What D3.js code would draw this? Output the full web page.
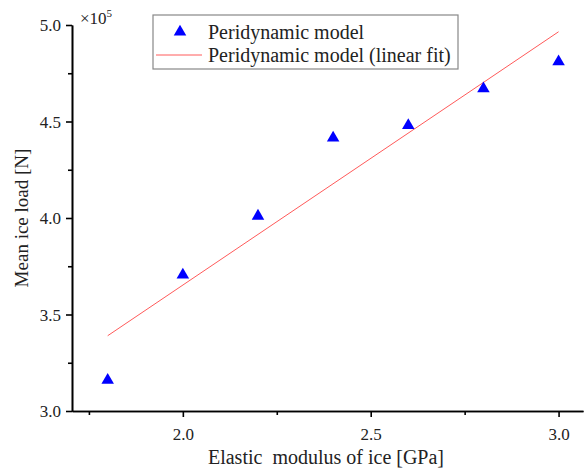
<!DOCTYPE html>
<html>
<head>
<meta charset="utf-8">
<script src="https://cdn.jsdelivr.net/npm/d3@7"></script>
<style>
  body { margin: 0; background: #fff; }
  text { font-family: "Liberation Serif", "Times New Roman", serif; }
</style>
</head>
<body>
<script>
// values (load in units of 1e5 N)
const modulus = [1.8, 2.0, 2.2, 2.4, 2.6, 2.8, 3.0];
const meanLoad = [3.16, 3.705, 4.01, 4.415, 4.48, 4.67, 4.81];
const fitX = [1.8, 3.0];
const fitY = [3.39, 4.965];
const xTicks = [2.0, 2.5, 3.0];
const yTicks = [3.0, 3.5, 4.0, 4.5, 5.0];
const legendLabels = ["Peridynamic model", "Peridynamic model (linear fit)"];

const width = 584, height = 470;
const margin = {left: 72, right: 1, top: 25, bottom: 59};

const svg = d3.select("body").append("svg")
    .attr("width", width)
    .attr("height", height);

const x = d3.scaleLinear().domain([1.705, 3.065]).range([margin.left, width - margin.right]);
const y = d3.scaleLinear().domain([3.0, 5.0]).range([height - margin.bottom, margin.top]);

// axes
const xAxis = svg.append("g")
    .attr("transform", `translate(0,${y(3.0)})`)
    .call(d3.axisBottom(x).tickValues(xTicks).tickFormat(d3.format(".1f")).tickSize(6).tickSizeOuter(0));
const xMinor = svg.append("g")
    .attr("transform", `translate(0,${y(3.0)})`)
    .call(d3.axisBottom(x).tickValues([1.75, 2.25, 2.75]).tickFormat("").tickSize(4).tickSizeOuter(0));

const yAxis = svg.append("g")
    .attr("transform", `translate(${x.range()[0]},0)`)
    .call(d3.axisLeft(y).tickValues(yTicks).tickFormat(d3.format(".1f")).tickSize(6).tickSizeOuter(0));
const yMinor = svg.append("g")
    .attr("transform", `translate(${x.range()[0]},0)`)
    .call(d3.axisLeft(y).tickValues([3.25, 3.75, 4.25, 4.75]).tickFormat("").tickSize(4).tickSizeOuter(0));

[xAxis, xMinor, yAxis, yMinor].forEach(g => {
  g.select(".domain").attr("stroke", "#000").attr("stroke-width", 1.6);
  g.selectAll(".tick line").attr("stroke", "#000").attr("stroke-width", 1.6);
  g.selectAll(".tick text")
      .attr("font-family", "Liberation Serif, serif")
      .attr("font-size", 17)
      .attr("fill", "#222");
});
xAxis.selectAll(".tick text").attr("y", 13).attr("dy", "0.95em");
yAxis.selectAll(".tick text").attr("x", -11).attr("dy", "0.35em");

// multiplier
const mult = svg.append("text")
    .attr("x", 80)
    .attr("y", 24)
    .attr("font-size", 17)
    .attr("fill", "#222");
mult.append("tspan").text("×10");
mult.append("tspan").attr("font-size", 11).attr("dy", -7).text("5");

// axis titles
svg.append("text")
    .attr("x", 326)
    .attr("y", 464)
    .attr("text-anchor", "middle")
    .attr("font-size", 20)
    .attr("fill", "#222")
    .style("white-space", "pre")
    .text("Elastic  modulus of ice [GPa]");

svg.append("text")
    .attr("transform", `translate(28,${y(4.0)}) rotate(-90)`)
    .attr("text-anchor", "middle")
    .attr("font-size", 19)
    .attr("fill", "#222")
    .text("Mean ice load [N]");

// fit line
svg.append("path")
    .datum(fitX.map((d, i) => [d, fitY[i]]))
    .attr("fill", "none")
    .attr("stroke", "#ff5a5a")
    .attr("stroke-width", 1)
    .attr("d", d3.line().x(d => x(d[0])).y(d => y(d[1])));

// points
const tri = d3.symbol().type(d3.symbolTriangle).size(68);
svg.append("g").selectAll("path")
    .data(modulus.map((d, i) => [d, meanLoad[i]]))
    .join("path")
    .attr("d", tri)
    .attr("transform", d => `translate(${x(d[0])},${y(d[1])})`)
    .attr("fill", "#0000ff");

// legend
const lg = svg.append("g").attr("transform", "translate(153,15)");
lg.append("rect")
    .attr("width", 305).attr("height", 54)
    .attr("fill", "#fff")
    .attr("stroke", "#888")
    .attr("stroke-width", 1.2);
lg.append("path")
    .attr("d", tri)
    .attr("transform", "translate(27,17)")
    .attr("fill", "#0000ff");
lg.append("line")
    .attr("x1", 3).attr("x2", 49)
    .attr("y1", 40).attr("y2", 40)
    .attr("stroke", "#ff5a5a").attr("stroke-width", 1);
lg.selectAll("text.lab")
    .data(legendLabels)
    .join("text")
    .attr("class", "lab")
    .attr("x", 55)
    .attr("y", (d, i) => 24 + i * 23)
    .attr("font-size", 20)
    .attr("fill", "#222")
    .text(d => d);
</script>
</body>
</html>
